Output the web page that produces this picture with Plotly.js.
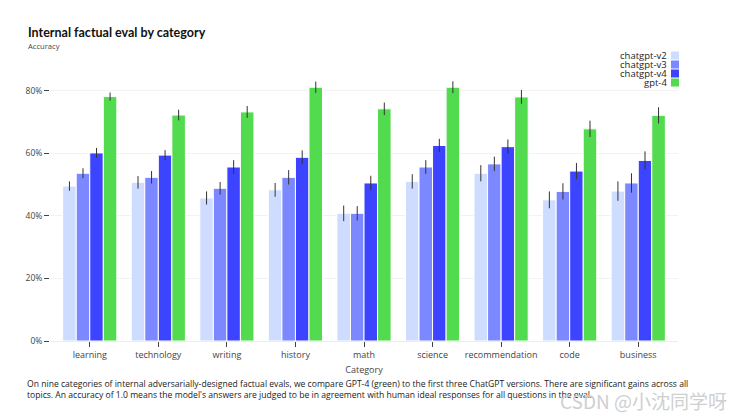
<!DOCTYPE html>
<html><head><meta charset="utf-8">
<script src="https://cdn.plot.ly/plotly-3.0.1.min.js"></script>
<style>html,body{margin:0;padding:0;background:#fff;}#chart{width:746px;height:416px;}</style>
</head><body><div id="chart"></div>
<script>
const categories = ["learning","technology","writing","history","math","science","recommendation","code","business"];
const seriesNames = ["chatgpt-v2","chatgpt-v3","chatgpt-v4","gpt-4"];
const v2 = [0.495,0.507,0.457,0.483,0.408,0.510,0.536,0.451,0.479];
const v3 = [0.536,0.523,0.488,0.523,0.408,0.556,0.566,0.478,0.505];
const v4 = [0.601,0.594,0.556,0.587,0.505,0.625,0.621,0.543,0.577];
const g4 = [0.781,0.722,0.732,0.811,0.742,0.811,0.780,0.678,0.721];
const v2err = [0.015,0.020,0.021,0.022,0.025,0.023,0.026,0.027,0.031];
const v3err = [0.016,0.020,0.020,0.023,0.023,0.022,0.023,0.026,0.031];
const v4err = [0.016,0.016,0.022,0.022,0.023,0.021,0.023,0.026,0.029];
const g4err = [0.013,0.017,0.019,0.018,0.020,0.019,0.022,0.026,0.026];
const colors = ["#cddcff","#7b88ff","#3c44ff","#52db4e"];

const vals = [v2,v3,v4,g4];
const errs = [v2err,v3err,v4err,g4err];
const traces = vals.map((v,i)=>({
  type:"bar", name:seriesNames[i], x:categories, y:v,
  marker:{color:colors[i], line:{color:"#ffffff", width:1}},
  error_y:{type:"data", array:errs[i], visible:true, color:"#333", thickness:1, width:0},
  showlegend:false
}));

const PH = 265.7, PB = 340.7, PL = 50, PW = 628;
const py = (p)=> (PB - p)/PH;
const px = (p)=> (p - PL)/PW;

const annotations = [
  {xref:"paper",yref:"paper",x:px(26),y:py(33),xanchor:"left",yanchor:"middle",showarrow:false,
   text:"<b>Internal factual eval by category</b>",font:{family:"Lato, sans-serif",size:12.5,color:"#111"}},
  {xref:"paper",yref:"paper",x:px(26),y:py(46),xanchor:"left",yanchor:"middle",showarrow:false,
   text:"Accuracy",font:{family:"Open Sans, sans-serif",size:7.6,color:"#444"}},
  {xref:"paper",yref:"paper",x:px(25),y:py(376),xanchor:"left",yanchor:"top",showarrow:false,align:"left",
   text:"On nine categories of internal adversarially-designed factual evals, we compare GPT-4 (green) to the first three ChatGPT versions. There are significant gains across all<br>topics. An accuracy of 1.0 means the model's answers are judged to be in agreement with human ideal responses for all questions in the eval.",
   font:{family:"Open Sans, sans-serif",size:8.6,color:"#222"}},
  {xref:"paper",yref:"paper",x:px(729),y:py(400),xanchor:"right",yanchor:"middle",showarrow:false,
   text:"CSDN @小沈同学呀",font:{family:"Noto Sans CJK SC, sans-serif",size:19,color:"#cfcfcf"}}
];
const shapes = [];
// legend built from seriesNames and colors (text right, swatch at right)
const legY = [55.5,64.5,73.5,82.5];
seriesNames.forEach((n,i)=>{
  annotations.push({xref:"paper",yref:"paper",x:px(667),y:py(legY[i]),xanchor:"right",yanchor:"middle",showarrow:false,
    borderpad:0, borderwidth:0,
    text:n,font:{family:"Open Sans, sans-serif",size:9.5,color:"#222"}});
  shapes.push({type:"rect",xref:"paper",yref:"paper",x0:px(671),x1:px(679),
    y0:py(legY[i]+4),y1:py(legY[i]-4),fillcolor:colors[i],line:{width:0}});
});

const layout = {
  width:746, height:416,
  margin:{l:50,r:68,t:75,b:75.3},
  paper_bgcolor:"#fff", plot_bgcolor:"#fff",
  barmode:"group", bargap:0.21, bargroupgap:0,
  font:{family:"Open Sans, sans-serif",size:9,color:"#444"},
  xaxis:{type:"category", range:[-0.58,8.58], showgrid:false, zeroline:false, showline:false,
    ticks:"outside", ticklen:5, tickcolor:"#444", tickfont:{size:9,color:"#444"},
    title:{text:"Category", font:{size:9,color:"#444"}, standoff:6}},
  yaxis:{range:[0,0.85], tickvals:[0,0.2,0.4,0.6,0.8], tickformat:".0%",
    showgrid:true, gridcolor:"#f2f2f2", zeroline:true, zerolinecolor:"#eeeeee",
    ticks:"outside", ticklen:5, tickcolor:"#444", tickfont:{size:8.5,color:"#444"}},
  annotations:annotations, shapes:shapes, showlegend:false
};
Plotly.newPlot("chart", traces, layout, {displayModeBar:false, staticPlot:true});
</script></body></html>
